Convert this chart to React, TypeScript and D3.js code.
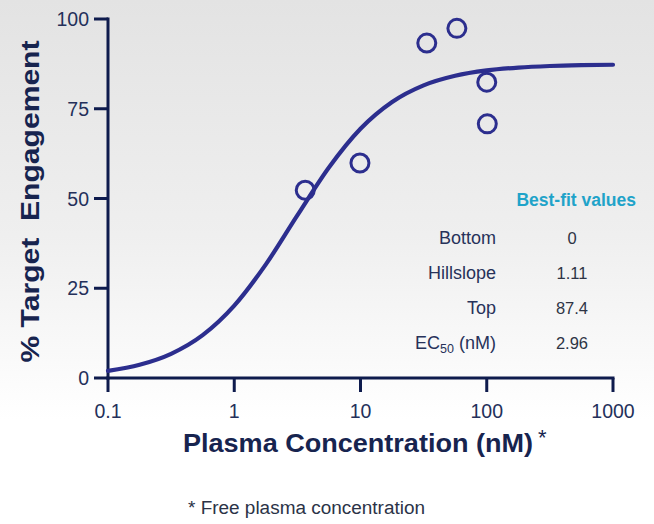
import React from "react";
import * as d3 from "d3";

const W = 654;
const H = 524;

// Observed data points (plasma concentration nM, % target engagement)
const pointConc = [3.65, 9.9, 33.5, 58, 100, 101];
const pointTE = [52.3, 59.9, 93.3, 97.4, 82.4, 70.8];

// Fitted curve samples
const curveConc = [0.1, 0.178, 0.316, 0.562, 1, 1.78, 3.16, 5.62, 10, 17.8, 31.6, 56.2, 100, 178, 316, 562, 1000];
const curveTE = [1.99, 3.69, 6.74, 11.94, 20.16, 31.66, 45.3, 58.64, 69.43, 76.89, 81.52, 84.19, 85.68, 86.48, 86.91, 87.14, 87.26];

const xTicks = [0.1, 1, 10, 100, 1000];
const xTickLabels = ["0.1", "1", "10", "100", "1000"];
const yTicks = [0, 25, 50, 75, 100];

const fitLabels = ["Bottom", "Hillslope", "Top", "EC50"];
const fitValues = ["0", "1.11", "87.4", "2.96"];

const FONT = "'Liberation Sans', Arial, Helvetica, sans-serif";
const AXIS = "#0e1b4d";
const CURVE = "#2c2e8e";
const TITLE = "#17244f";

export default function App() {
  const x = d3.scaleLog().domain([0.1, 1000]).range([108, 613]);
  const y = d3.scaleLinear().domain([0, 100]).range([378, 19]);

  const line = d3
    .line<number>()
    .x((d, i) => x(curveConc[i]))
    .y((d) => y(d))
    .curve(d3.curveMonotoneX);

  const rowY = d3.scalePoint<string>().domain(fitLabels).range([244, 349]);

  return (
    <div style={{ position: "absolute", left: 0, top: 0 }}>
      <svg width={W} height={H} style={{ display: "block" }}>
        <defs>
          <linearGradient id="bg" x1="0" y1="0" x2="0" y2="1">
            <stop offset="0" stopColor="#e3e3e3" />
            <stop offset="0.45" stopColor="#efefef" />
            <stop offset="0.8" stopColor="#ffffff" />
            <stop offset="1" stopColor="#ffffff" />
          </linearGradient>
          <linearGradient id="sep" x1="0" y1="0" x2="1" y2="0">
            <stop offset="0" stopColor="#d6d6d6" stopOpacity="0.2" />
            <stop offset="0.2" stopColor="#d6d6d6" />
            <stop offset="0.9" stopColor="#d6d6d6" />
            <stop offset="1" stopColor="#d6d6d6" stopOpacity="0.3" />
          </linearGradient>
        </defs>
        <rect x={0} y={0} width={W} height={H} fill="url(#bg)" />

        {/* Y axis */}
        <line x1={x(0.1)} x2={x(0.1)} y1={y(100) - 1.5} y2={y(0) + 1.5} stroke={AXIS} strokeWidth={3} />
        {yTicks.map((t) => (
          <g key={"y" + t}>
            <line x1={x(0.1) - 14} x2={x(0.1)} y1={y(t)} y2={y(t)} stroke={AXIS} strokeWidth={3} />
            <text
              x={x(0.1) - 19}
              y={y(t) + 7}
              textAnchor="end"
              fontFamily={FONT}
              fontSize={19.5}
              fill="#24305a"
            >
              {t}
            </text>
          </g>
        ))}

        {/* X axis */}
        <line x1={x(0.1) - 1.5} x2={x(1000) + 1.5} y1={y(0)} y2={y(0)} stroke={AXIS} strokeWidth={3} />
        {xTicks.map((t, i) => (
          <g key={"x" + t}>
            <line x1={x(t)} x2={x(t)} y1={y(0)} y2={y(0) + 14} stroke={AXIS} strokeWidth={3} />
            <text
              x={x(t)}
              y={418}
              textAnchor="middle"
              fontFamily={FONT}
              fontSize={19.5}
              fill="#24305a"
            >
              {xTickLabels[i]}
            </text>
          </g>
        ))}

        {/* Fitted curve */}
        <path d={line(curveTE) || ""} fill="none" stroke={CURVE} strokeWidth={4.2} strokeLinecap="round" />

        {/* Data points */}
        {pointConc.map((c, i) => (
          <circle key={"p" + i} cx={x(c)} cy={y(pointTE[i])} r={9} fill="none" stroke={CURVE} strokeWidth={3} />
        ))}

        {/* Y title */}
        <text
          transform="translate(39,201.5) rotate(-90)"
          textAnchor="middle"
          fontFamily={FONT}
          fontWeight="bold"
          fontSize={26.5}
          fill={TITLE}
          textLength={322}
          lengthAdjust="spacingAndGlyphs"
          style={{ whiteSpace: "pre" }}
        >
          {"% Target  Engagement"}
        </text>

        {/* X title */}
        <text
          x={183}
          y={452}
          fontFamily={FONT}
          fontWeight="bold"
          fontSize={25.5}
          fill={TITLE}
          textLength={350}
          lengthAdjust="spacingAndGlyphs"
        >
          Plasma Concentration (nM)
        </text>
        <text x={538} y={445} fontFamily={FONT} fontSize={22} fill={TITLE}>
          *
        </text>

        {/* Best-fit table */}
        <text x={636} y={206} textAnchor="end" fontFamily={FONT} fontWeight="bold" fontSize={17.5} fill="#1fa3c9">
          Best-fit values
        </text>
        <line x1={392} x2={648} y1={217} y2={217} stroke="url(#sep)" strokeWidth={1.2} />
        {fitLabels.map((lab, i) => (
          <g key={lab}>
            <text x={496} y={rowY(lab)} textAnchor="end" fontFamily={FONT} fontSize={18} fill="#27325a">
              {lab === "EC50" ? (
                <>
                  EC
                  <tspan fontSize={12.5} dy={4}>
                    50
                  </tspan>
                  <tspan dy={-4}> (nM)</tspan>
                </>
              ) : (
                lab
              )}
            </text>
            <text x={572} y={rowY(lab)} textAnchor="middle" fontFamily={FONT} fontSize={16.5} fill="#2e3445">
              {fitValues[i]}
            </text>
          </g>
        ))}

        {/* Footnote */}
        <text x={188} y={514} fontFamily={FONT} fontSize={18} fill="#2b3347" textLength={237} lengthAdjust="spacingAndGlyphs">
          * Free plasma concentration
        </text>
      </svg>
    </div>
  );
}
